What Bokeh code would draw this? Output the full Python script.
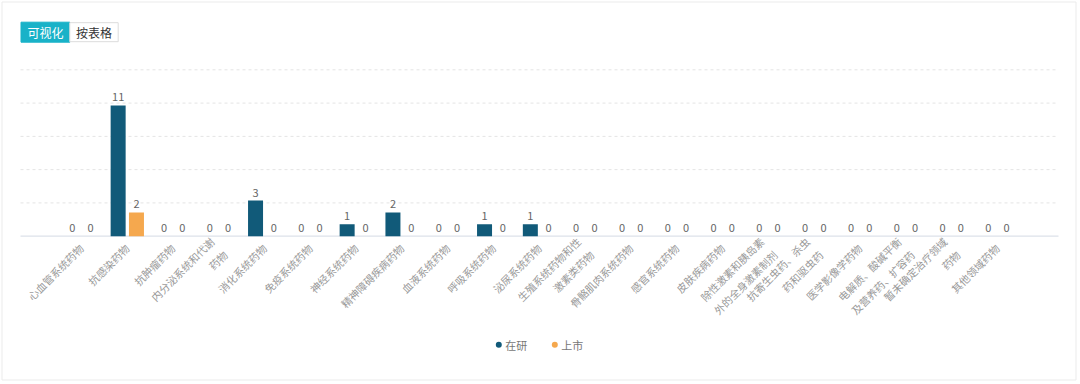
import math
from bokeh.plotting import figure
from bokeh.models import (FactorRange, Range1d, ColumnDataSource, LabelSet, LinearScale)
from bokeh.core.properties import value
from bokeh.transform import dodge
from bokeh.embed import file_html
from bokeh.resources import INLINE

# ---------------- data ----------------
categories = [
    "心血管系统药物", "抗感染药物", "抗肿瘤药物", "内分泌系统和代谢\n药物", "消化系统药物",
    "免疫系统药物", "神经系统药物", "精神障碍疾病药物", "血液系统药物", "呼吸系统药物",
    "泌尿系统药物", "生殖系统药物和性\n激素类药物", "骨骼肌肉系统药物", "感官系统药物",
    "皮肤疾病药物", "除性激素和胰岛素\n外的全身激素制剂", "抗寄生虫药、杀虫\n药和驱虫药",
    "医学影像学药物", "电解质、酸碱平衡\n及营养药、扩容药", "暂未确定治疗领域\n药物", "其他领域药物",
]
in_research = [0, 11, 0, 0, 3, 0, 1, 2, 0, 1, 1, 0, 0, 0, 0, 0, 0, 0, 0, 0, 0]
launched = [0, 2, 0, 0, 0, 0, 0, 0, 0, 0, 0, 0, 0, 0, 0, 0, 0, 0, 0, 0, 0]
series_names = ["在研", "上市"]
y_ticks = [2.8, 5.6, 8.4, 11.2, 14]
buttons = ["可视化", "按表格"]

# ---------------- style ----------------
FONT = "Noto Sans CJK SC"
C1 = "#115a79"
C2 = "#f5a84e"
W, H = 1078, 382
BASE_Y = 235.7          # pixel row of value 0
TOP_Y = 69.3            # pixel row of top grid line (14)
PX = (BASE_Y - TOP_Y) / 14.0
PAD = 1.2686            # category-axis padding (in category widths)
UNIT = W / (len(categories) + 2 * PAD)


def sx(px):
    """pixel column -> synthetic categorical coordinate (for decorations only)"""
    return px / UNIT - PAD


source = ColumnDataSource(dict(cat=categories, a=in_research, b=launched,
                               sa=[str(v) for v in in_research],
                               sb=[str(v) for v in launched]))

p = figure(width=W, height=H, output_backend="svg", toolbar_location=None,
           x_range=FactorRange(factors=categories, range_padding=PAD,
                               range_padding_units="absolute"),
           y_range=Range1d(-(H - BASE_Y) / PX, BASE_Y / PX),
           x_axis_location=None, y_axis_location=None,
           min_border=0, min_border_left=0, min_border_right=0,
           min_border_top=0, min_border_bottom=0)
p.outline_line_color = None
p.background_fill_color = "white"
p.border_fill_color = "white"
p.xgrid.visible = False
p.ygrid.visible = False
p.extra_y_ranges = {"py": Range1d(H, 0)}
p.extra_y_scales = {"py": LinearScale()}

# card border
p.quad(left=[sx(1.5)], right=[sx(1075.5)], top=[1.5], bottom=[379.5], y_range_name="py",
       fill_color=None, line_color="#ebebeb", line_width=1)

# buttons
p.quad(left=[sx(20.5)], right=[sx(69.3)], top=[21.7], bottom=[41.7], y_range_name="py",
       fill_color="#19b2c8", line_color="#19b2c8")
p.quad(left=[sx(69.3)], right=[sx(117.7)], top=[22.2], bottom=[41.2], y_range_name="py",
       fill_color="white", line_color="#dcdcdc")
p.text(x=[sx(45.0), sx(93.5)], y=[31.5, 31.5], text=buttons, y_range_name="py",
       text_align="center", text_baseline="middle", text_font=value(FONT),
       text_font_size="12px", text_color=["white", "#333333"])

# grid lines
p.segment(x0=[sx(20)] * len(y_ticks), x1=[sx(1058)] * len(y_ticks), y0=y_ticks, y1=y_ticks,
          line_color="#e4e4e4", line_dash="3 3", line_width=1)
# baseline (axis line)
p.segment(x0=[sx(20)], x1=[sx(1058)], y0=[0], y1=[0],
          line_color="#dde2ea", line_width=1.2)

# bars
p.vbar(x=dodge("cat", -0.2, range=p.x_range), top="a", width=0.3275, source=source,
       fill_color=C1, line_color=None)
p.vbar(x=dodge("cat", 0.2, range=p.x_range), top="b", width=0.3275, source=source,
       fill_color=C2, line_color=None)

for fld, yf, off in (("sa", "a", -0.2), ("sb", "b", 0.2)):
    p.add_layout(LabelSet(x=dodge("cat", off, range=p.x_range), y=yf, text=fld, source=source,
                          y_offset=4, text_align="center", text_baseline="bottom",
                          text_font=value(FONT), text_font_size="11px",
                          text_color="#666666"))

# category (tick) labels, rotated 45 degrees
cat_src = ColumnDataSource(dict(cat=categories, y=[BASE_Y + 10] * len(categories)))
p.text(x="cat", y="y", text="cat", source=cat_src, y_range_name="py",
       angle=math.pi / 4, text_align="right", text_baseline="middle",
       text_font=value(FONT), text_font_size="10.5px", text_color="#999999",
       text_line_height=1.25)

# legend (circle markers + labels)
LEG_X0, LEG_STEP, LEG_Y = 498.3, 56.0, 344.3
leg_x = [LEG_X0 + i * LEG_STEP for i in range(len(series_names))]
p.scatter(x=[sx(v) for v in leg_x], y=[LEG_Y] * len(leg_x), y_range_name="py",
          size=6, fill_color=[C1, C2], line_color=None)
p.text(x=[sx(v + 6.5) for v in leg_x], y=[LEG_Y] * len(leg_x), text=series_names,
       y_range_name="py", text_align="left", text_baseline="middle",
       text_font=value(FONT), text_font_size="11px", text_color="#777777")

open("out.html", "w").write(file_html(p, INLINE))
